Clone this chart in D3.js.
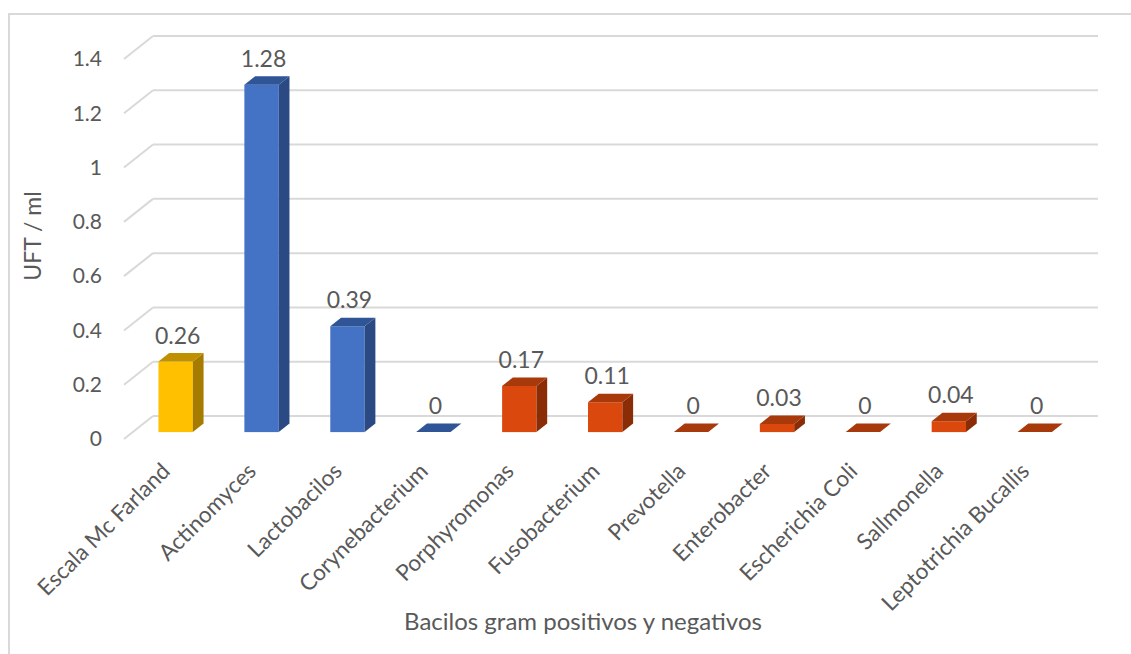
<!DOCTYPE html>
<html>
<head>
<meta charset="utf-8">
<script src="https://cdn.jsdelivr.net/npm/d3@7/dist/d3.min.js"></script>
<style>
  html, body { margin: 0; padding: 0; background: #ffffff; }
  svg { display: block; }
  text { font-family: Lato, "Open Sans", sans-serif; fill: #595959; }
</style>
</head>
<body>
<svg id="chart" width="1131" height="654"></svg>
<script>
// ---- data ----
const categories = ["Escala Mc Farland", "Actinomyces", "Lactobacilos", "Corynebacterium",
  "Porphyromonas", "Fusobacterium", "Prevotella", "Enterobacter", "Escherichia Coli",
  "Sallmonella", "Leptotrichia Bucallis"];
const values = [0.26, 1.28, 0.39, 0, 0.17, 0.11, 0, 0.03, 0, 0.04, 0];
const groups = ["ref", "pos", "pos", "pos", "neg", "neg", "neg", "neg", "neg", "neg", "neg"];
const yTicks = [0, 0.2, 0.4, 0.6, 0.8, 1, 1.2, 1.4];
const yTitle = "UFT / ml";
const xTitle = "Bacilos gram positivos y negativos";

// ---- styles ----
const palette = {
  ref: { front: "#FFC000", top: "#BF9000", side: "#A67C00" },
  pos: { front: "#4472C4", top: "#2F5597", side: "#2B4A84" },
  neg: { front: "#DA480E", top: "#A8390B", side: "#8A2D06" }
};
const depth = { dx: 29, dy: -23 };      // floor depth of the 3D box
const barF0 = 0.3, barF1 = 0.67;        // bar position inside the depth

const svg = d3.select("#chart");

// outer frame
svg.append("rect").attr("x", 9).attr("y", 14).attr("width", 1140).attr("height", 660)
  .attr("fill", "none").attr("stroke", "#d9d9d9").attr("stroke-width", 2);

const x = d3.scaleBand().domain(categories).range([124, 1069]).paddingInner(0.6).paddingOuter(0.3);
const y = d3.scaleLinear().domain([0, 1.4]).range([439, 59]);

// gridlines: side wall diagonals + back wall
const grid = svg.append("g");
yTicks.forEach(t => {
  const yf = y(t);
  grid.append("line").attr("x1", 124).attr("y1", yf).attr("x2", 124 + depth.dx).attr("y2", yf + depth.dy)
    .attr("stroke", "#d9d9d9").attr("stroke-width", 2);
  grid.append("line").attr("x1", 124 + depth.dx).attr("y1", yf + depth.dy).attr("x2", 1069 + depth.dx).attr("y2", yf + depth.dy)
    .attr("stroke", "#d9d9d9").attr("stroke-width", 2);
});

// y axis labels
const yAxis = svg.append("g").attr("transform", "translate(104,0)")
  .call(d3.axisLeft(y).tickValues(yTicks).tickSize(0).tickPadding(2).tickFormat(d => String(d)));
yAxis.select(".domain").remove();
yAxis.selectAll("text").style("font-family", "Lato, sans-serif").style("font-size", "21px").attr("fill", "#595959");

// bars
const bw = x.bandwidth();
const ox0 = barF0 * depth.dx, oy0 = barF0 * depth.dy;
const bdx = (barF1 - barF0) * depth.dx, bdy = (barF1 - barF0) * depth.dy;
const bars = svg.append("g");
categories.forEach((c, i) => {
  const col = palette[groups[i]];
  const xl = x(c) + ox0, xr = xl + bw;
  const yb = y(0) + oy0, yt = y(values[i]) + oy0;
  const g = bars.append("g");
  if (yb - yt > 0.01) {
    g.append("rect").attr("x", xl).attr("y", yt).attr("width", bw).attr("height", yb - yt).attr("fill", col.front);
    g.append("polygon").attr("points", [[xr, yt], [xr + bdx, yt + bdy], [xr + bdx, yb + bdy], [xr, yb]].map(p => p.join(",")).join(" "))
      .attr("fill", col.side);
  }
  g.append("polygon").attr("points", [[xl, yt], [xl + bdx, yt + bdy], [xr + bdx, yt + bdy], [xr, yt]].map(p => p.join(",")).join(" "))
    .attr("fill", col.top);
  // data label
  svg.append("text").attr("x", xl + bw / 2 + 2).attr("y", yt - 18)
    .attr("text-anchor", "middle").style("font-size", "23px").text(String(values[i]));
});

// category labels
const xAxis = svg.append("g");
categories.forEach((c, i) => {
  const cx = x(c) + bw / 2 - 1;
  xAxis.append("text").attr("transform", `translate(${cx},467) rotate(-45)`)
    .attr("text-anchor", "end").attr("dy", "0.35em").style("font-size", "22.5px").text(c);
});

// axis titles
svg.append("text").attr("x", 583).attr("y", 630).attr("text-anchor", "middle").style("font-size", "24px").text(xTitle);
svg.append("text").attr("transform", "translate(41,236) rotate(-90)").attr("text-anchor", "middle")
  .style("font-size", "23px").text(yTitle);
</script>
</body>
</html>
